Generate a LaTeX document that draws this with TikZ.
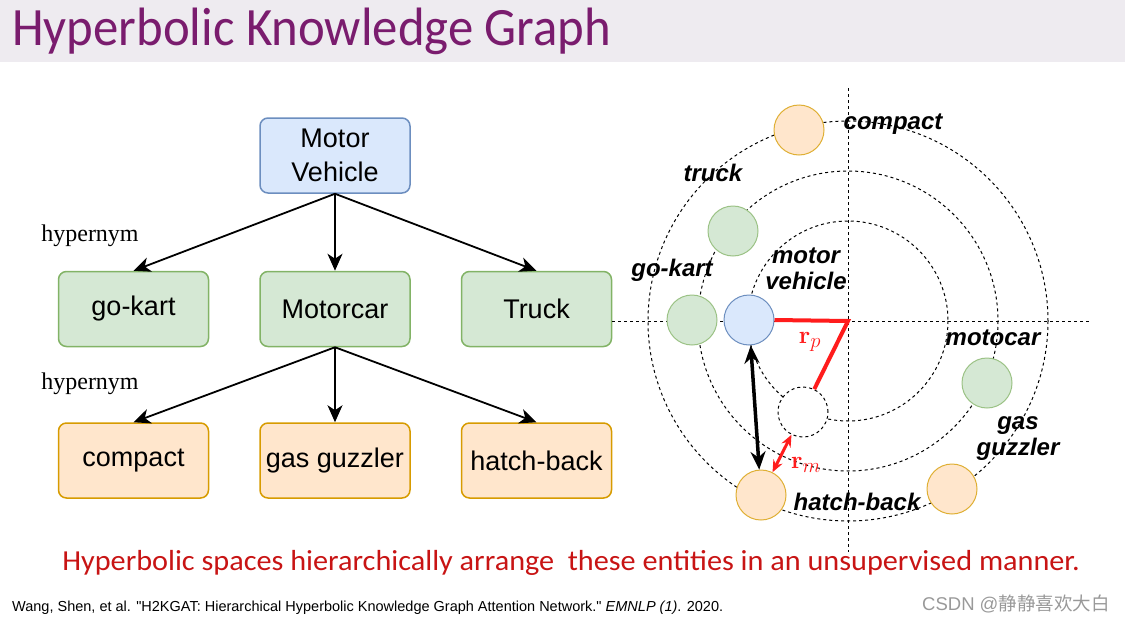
\documentclass[tikz,border=0pt]{standalone}
\usepackage[no-math]{fontspec}
\setmainfont{Liberation Sans}
\newfontfamily\hypfont{Liberation Serif}
\newfontfamily\slidefont{Carlito}
\newfontfamily\citefont{Liberation Sans}[Ligatures=TeXOff]
\newfontfamily\cjkfont{Noto Sans CJK SC}
\usetikzlibrary{positioning, arrows.meta, calc}

\definecolor{titlepurple}{RGB}{122,28,110}
\definecolor{bandgray}{RGB}{238,235,240}
\definecolor{slidered}{RGB}{200,20,20}
\definecolor{diagred}{RGB}{255,28,28}
\definecolor{bluefill}{HTML}{DAE8FC}
\definecolor{blueline}{HTML}{6C8EBF}
\definecolor{greenfill}{HTML}{D5E8D4}
\definecolor{greenline}{HTML}{82B366}
\definecolor{orangefill}{HTML}{FFE6CC}
\definecolor{orangeline}{HTML}{D79B00}

\tikzset{
  box/.style={draw, rounded corners=8pt, line width=1.5pt, minimum width=150pt,
    minimum height=75pt, inner sep=2pt, align=center,
    font=\fontsize{27}{34}\selectfont},
  bluebox/.style={box, fill=bluefill, draw=blueline},
  greenbox/.style={box, fill=greenfill, draw=greenline},
  orangebox/.style={box, fill=orangefill, draw=orangeline},
  arr/.style={-{Stealth[length=17pt, width=15pt, inset=5pt]}, line width=1.8pt},
  hyp/.style={font=\hypfont\fontsize{24}{28}\selectfont},
  ball/.style={circle, minimum size=50pt, inner sep=0pt, line width=1pt},
  orbit/.style={dash pattern=on 3pt off 3pt, line width=1pt},
  lab/.style={font=\bfseries\itshape\fontsize{24}{26}\selectfont, align=center, inner sep=0pt},
  rlab/.style={text=diagred, font=\fontsize{28}{30}\selectfont, inner sep=0pt},
}

\begin{document}
\begin{tikzpicture}[x=1pt, y=-1pt]
  \useasboundingbox (0,0) rectangle (1125,624);
  \fill[bandgray] (0,0) rectangle (1125,62);
  \node[anchor=base west, inner sep=0pt, text=titlepurple,
    font=\slidefont\fontsize{54}{60}\selectfont] (title) at (12,45)
    {\scalebox{0.94}[1]{Hyperbolic Knowledge Graph}};
%
  \node[bluebox] (MV) at (335,155.5) {Motor\\Vehicle};
  \node[greenbox, below=77pt of MV] (Mcar) {Motorcar};
  \node[greenbox, left=50pt of Mcar] (Gkart) {go-kart};
  \node[greenbox, right=50pt of Mcar] (Truck) {Truck};
  \node[orangebox, below=75pt of Mcar] (Gas) {gas guzzler};
  \node[orangebox, left=50pt of Gas] (Comp) {compact};
  \node[orangebox, right=50pt of Gas] (Hatch) {hatch-back};
  \node[hyp] (hyp1) at (90,236) {hypernym};
  \node[hyp] (hyp2) at (90,384) {hypernym};
%
  \draw[arr] (MV.south) -- (Gkart.north);
  \draw[arr] (MV.south) -- (Mcar.north);
  \draw[arr] (MV.south) -- (Truck.north);
  \draw[arr] (Mcar.south) -- (Comp.north);
  \draw[arr] (Mcar.south) -- (Gas.north);
  \draw[arr] (Mcar.south) -- (Hatch.north);
%
  \coordinate (O) at (848,321);
  \coordinate (axL) at (612,321);
  \coordinate (axR) at (1090,321);
  \coordinate (axT) at (848,88);
  \coordinate (axB) at (848,552);
  \draw[orbit] (axL) -- (axR);
  \draw[orbit] (axT) -- (axB);
  \foreach \r in {100,150,200}
    \draw[orbit] (O) circle[radius=\r];
%
  \node[ball, fill=bluefill, draw=blueline] (mvC) at (749,320) {};
  \node[ball, fill=greenfill, draw=greenline!80] (gkC) at (692,320) {};
  \node[ball, fill=greenfill, draw=greenline!80] (trC) at (733,231) {};
  \node[ball, fill=greenfill, draw=greenline!80] (mcC) at (987,383) {};
  \node[ball, fill=orangefill, draw=orangeline!80] (cpC) at (799,130) {};
  \node[ball, fill=orangefill, draw=orangeline!80] (gsC) at (952,489) {};
  \node[ball, fill=orangefill, draw=orangeline!80] (hbC) at (761,495) {};
  \node[ball, fill=white, draw, orbit] (ghost) at (803,412) {};
%
  \node[lab] (cpL) at (893,124) {compact};
  \node[lab] (trL) at (713,173) {truck};
  \node[lab] (gkL) at (672,270) {go-kart};
  \node[lab] (mvL) at (806,269) {motor\\vehicle};
  \node[lab] (mcL) at (993,338) {motocar};
  \node[lab] (gsL) at (1018,439) {gas\\guzzler};
  \node[lab] (hbL) at (857,502) {hatch-back};
%
  \draw[diagred, line width=4pt, line join=miter] (mvC.east) -- (O) -- (ghost);
  \node[rlab] (rp) at (810,342) {$\mathbf{r}_p$};
  \draw[{Stealth[length=18pt, width=15pt]}-{Stealth[length=18pt, width=15pt]}, line width=3.5pt] (mvC) -- (hbC);
  \draw[diagred, {Stealth[length=12pt, width=10pt]}-{Stealth[length=12pt, width=10pt]}, line width=3pt] (hbC) -- (ghost);
  \node[rlab] (rm) at (806,465) {$\mathbf{r}_m$};
%
  \node[text=slidered, font=\slidefont\fontsize{29}{32}\selectfont, inner sep=0pt] (claim) at (571,563)
    {\scalebox{1.043}[1]{Hyperbolic spaces hierarchically arrange\ \ these entities in an unsupervised manner.}};
  \node[anchor=west, inner sep=0pt, font=\citefont\fontsize{14.5}{16}\selectfont] (cite) at (12,608)
    {Wang, Shen, et al. "H2KGAT: Hierarchical Hyperbolic Knowledge Graph Attention Network." \textit{EMNLP (1)}. 2020.};
  \node[anchor=west, inner sep=0pt, text=black!40, font=\fontsize{18.5}{20}\selectfont] (csdn) at (922,604)
    {CSDN @{\cjkfont 静静喜欢大白}};
\end{tikzpicture}
\end{document}
